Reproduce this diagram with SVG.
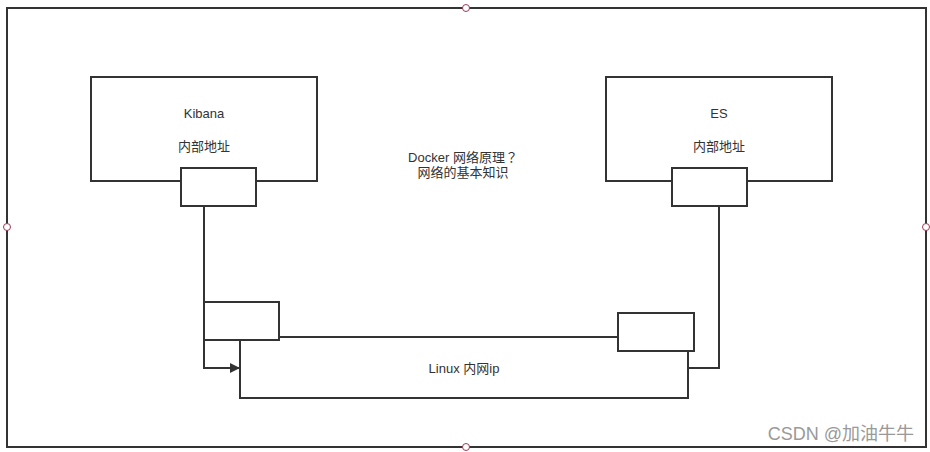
<svg xmlns="http://www.w3.org/2000/svg" width="930" height="452" viewBox="0 0 930 452">
<style>
.box{fill:#fff;stroke:#333;stroke-width:2}
.ln{fill:none;stroke:#333;stroke-width:2}
.t{font-family:"Liberation Sans","Noto Sans CJK SC",sans-serif;font-size:13px;fill:#333;text-anchor:middle}
.jp{font-family:"Noto Sans CJK JP",sans-serif}
.h{fill:#fff;stroke:#9a3b55;stroke-width:1}
.wm{font-family:"Liberation Sans","Noto Sans CJK SC",sans-serif;font-size:18px;fill:#999;text-anchor:end}
</style>
<defs>
<marker id="arr" viewBox="0 0 10 10" refX="10" refY="5" markerWidth="14" markerHeight="10" markerUnits="userSpaceOnUse" orient="auto">
<path d="M0,0 L10,5 L0,10 z" fill="#333"/>
</marker>
</defs>
<rect width="930" height="452" fill="#fff"/>
<g id="frame">
<rect x="7" y="8" width="919" height="439" fill="none" stroke="#333" stroke-width="2"/>
<circle class="h" cx="466" cy="8" r="3.5"/>
<circle class="h" cx="7" cy="227" r="3.5"/>
<circle class="h" cx="926" cy="227" r="3.5"/>
<circle class="h" cx="466" cy="447" r="3.5"/>
</g>
<g id="title">
<text class="t" x="463" y="162">Docker 网络原理<tspan class="jp">？</tspan></text>
<text class="t" x="463" y="177">网络的基本知识</text>
</g>
<g id="kibana">
<rect class="box" x="91" y="77" width="226" height="104"/>
<text class="t" x="204" y="118">Kibana</text>
<text class="t" x="204" y="151">内部地址</text>
</g>
<g id="es">
<rect class="box" x="606" y="77" width="226" height="104"/>
<text class="t" x="719" y="118">ES</text>
<text class="t" x="719" y="151">内部地址</text>
</g>
<g id="linux">
<rect class="box" x="240" y="337" width="448" height="61"/>
<text class="t" x="464" y="373">Linux 内网ip</text>
</g>
<g id="connectors">
<path class="ln" d="M204,206 V302"/>
<path class="ln" d="M204,340 V368 H240" marker-end="url(#arr)"/>
<path class="ln" d="M719,206 V368 H688"/>
</g>
<g id="kibana-port"><rect class="box" x="181" y="168" width="75" height="38"/></g>
<g id="es-port"><rect class="box" x="672" y="168" width="75" height="38"/></g>
<g id="veth-kibana"><rect class="box" x="204" y="302" width="75" height="38"/></g>
<g id="veth-es"><rect class="box" x="618" y="313" width="76" height="38"/></g>
<text class="wm" x="914" y="440">CSDN @加油牛牛</text>
</svg>
